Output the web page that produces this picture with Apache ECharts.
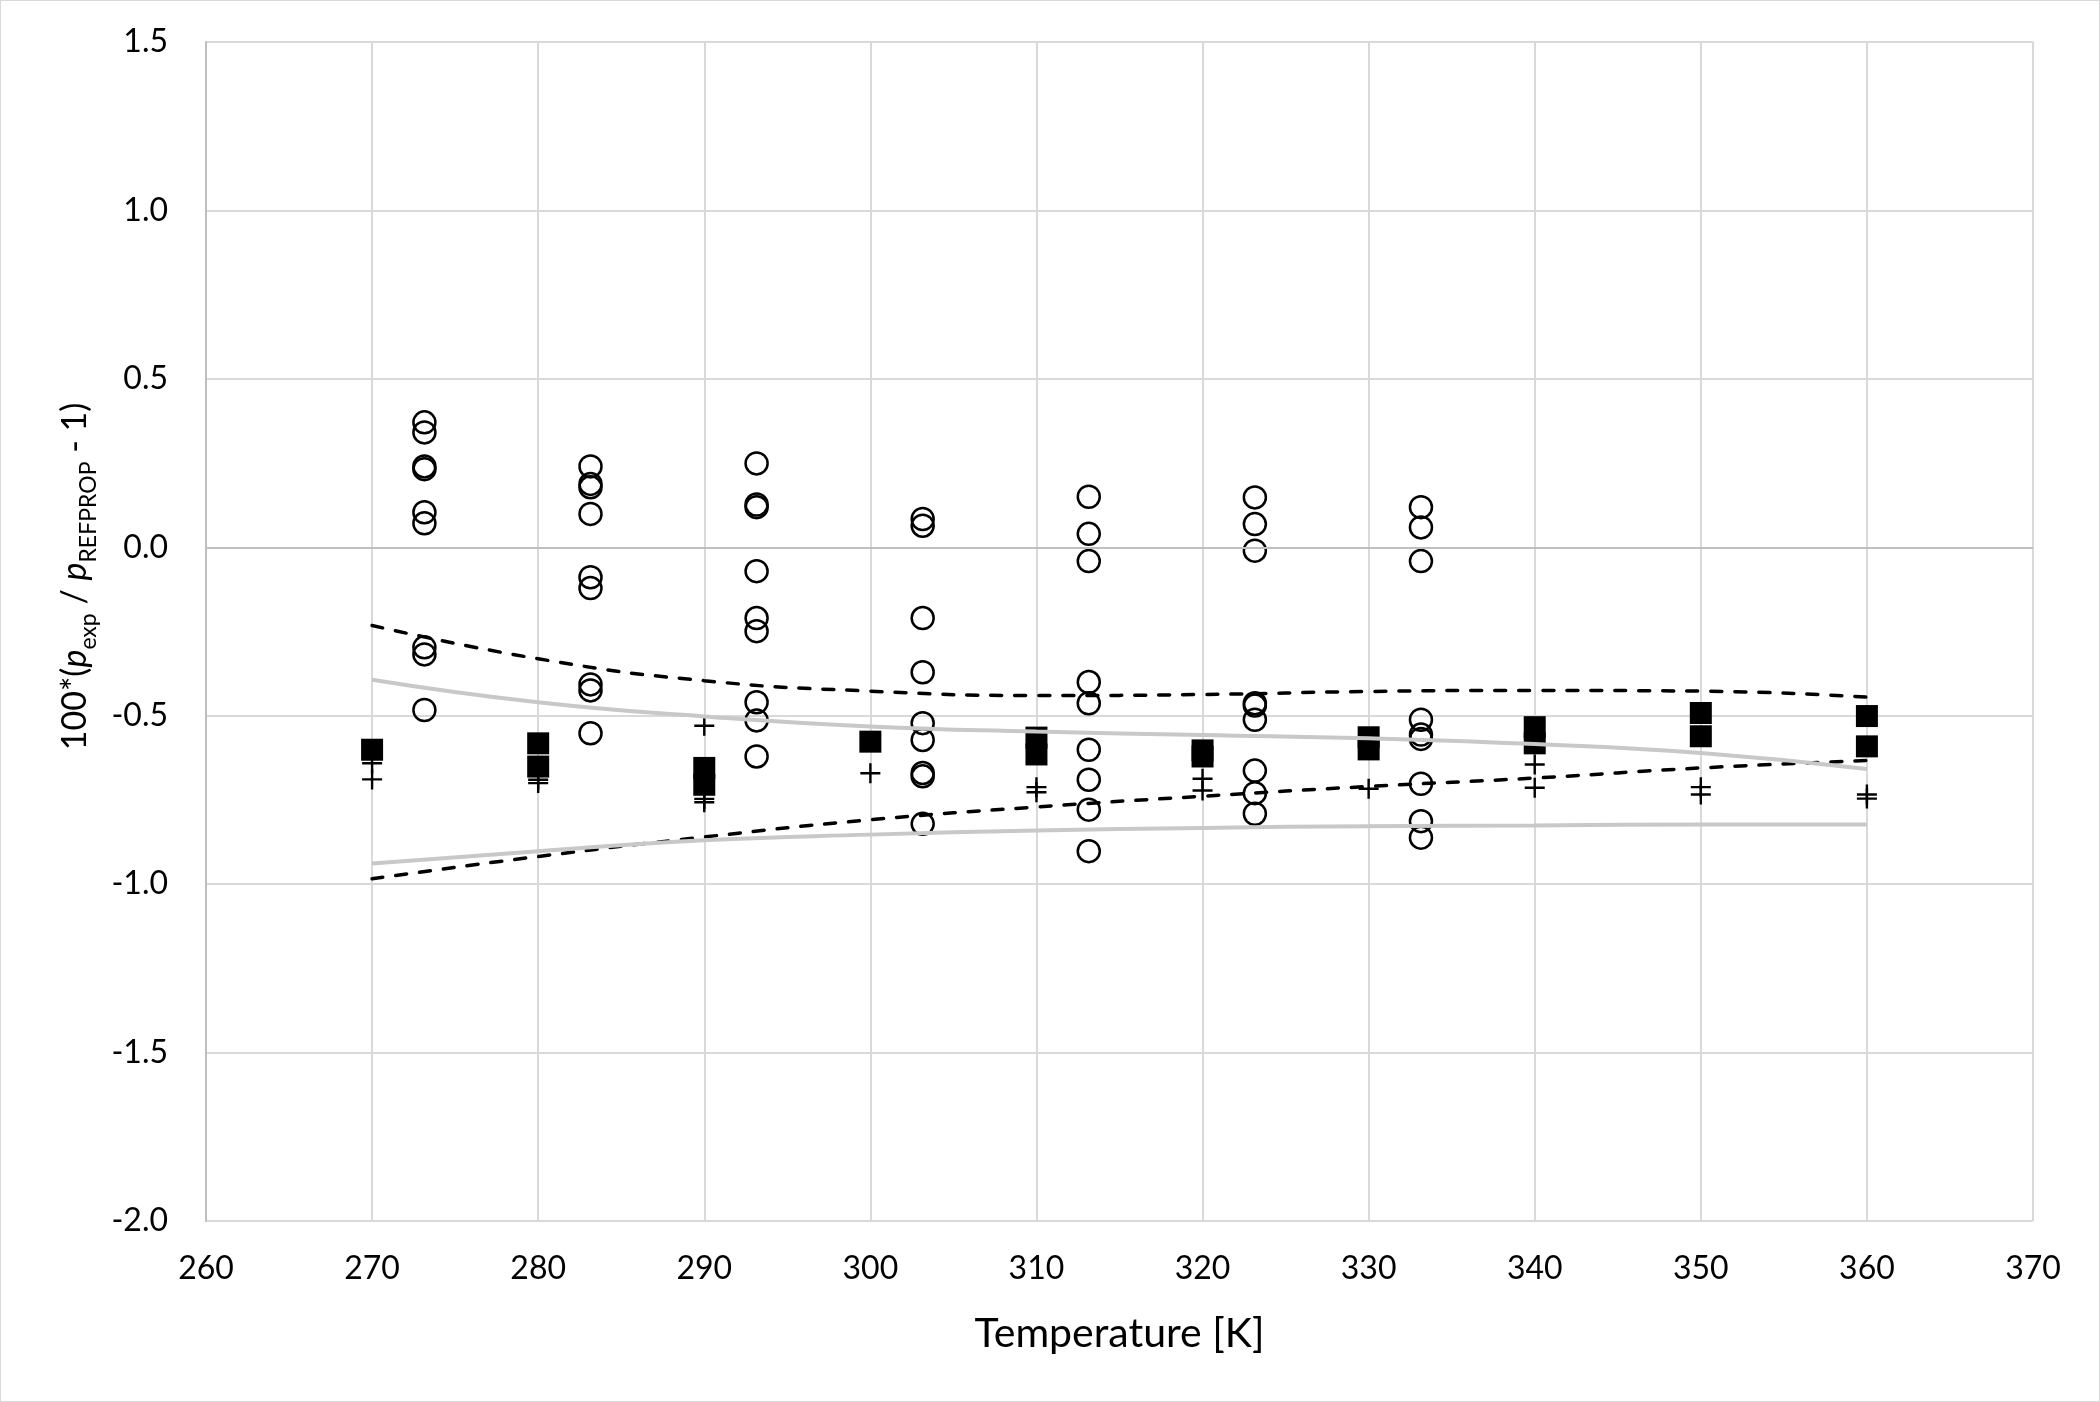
<!DOCTYPE html>
<html><head><meta charset="utf-8">
<script src="https://cdn.jsdelivr.net/npm/echarts@6/dist/echarts.min.js"></script>
<style>
html,body{margin:0;padding:0;background:#fff;}
#c{width:2098px;height:1400px;border:1px solid #d9d9d9;}
</style></head>
<body><div id="c"></div>
<script>
// Open circles: measurement temperatures and deviations
const circleTemps = [273.15, 283.15, 293.15, 303.15, 313.15, 323.15, 333.15];
const circleDevs = [
  [0.371, 0.341, 0.240, 0.232, 0.104, 0.071, -0.297, -0.318, -0.483],
  [0.240, 0.188, 0.178, 0.099, -0.089, -0.121, -0.407, -0.425, -0.552],
  [0.249, 0.127, 0.119, -0.071, -0.210, -0.249, -0.460, -0.514, -0.621],
  [0.084, 0.064, -0.210, -0.371, -0.522, -0.572, -0.670, -0.680, -0.821],
  [0.150, 0.040, -0.041, -0.400, -0.463, -0.601, -0.690, -0.779, -0.902],
  [0.148, 0.069, -0.010, -0.463, -0.470, -0.512, -0.663, -0.730, -0.791],
  [0.119, 0.059, -0.041, -0.512, -0.556, -0.569, -0.702, -0.813, -0.862]
];
// Filled squares
const squareT = [270, 280, 280, 290, 290, 300, 310, 310, 320, 320, 330, 330, 340, 340, 350, 350, 360, 360];
const squareDev = [-0.601, -0.582, -0.651, -0.655, -0.705, -0.577, -0.565, -0.615, -0.603, -0.621, -0.564, -0.600, -0.534, -0.582, -0.492, -0.561, -0.501, -0.591];
// Plus markers
const plusT = [270, 270, 280, 280, 290, 290, 290, 300, 310, 310, 320, 320, 330, 340, 340, 350, 350, 360, 360];
const plusDev = [-0.641, -0.689, -0.690, -0.700, -0.530, -0.747, -0.757, -0.671, -0.712, -0.727, -0.687, -0.722, -0.717, -0.645, -0.714, -0.712, -0.734, -0.734, -0.746];
// Uncertainty bands
const lineT = [270, 280, 290, 300, 310, 320, 330, 340, 350, 360];
const upperDash = [-0.232, -0.331, -0.396, -0.427, -0.440, -0.437, -0.428, -0.425, -0.427, -0.445];
const lowerDash = [-0.984, -0.918, -0.860, -0.809, -0.771, -0.739, -0.710, -0.685, -0.655, -0.633];
const upperGray = [-0.393, -0.460, -0.502, -0.532, -0.547, -0.557, -0.567, -0.584, -0.611, -0.658];
const lowerGray = [-0.939, -0.902, -0.870, -0.853, -0.841, -0.833, -0.828, -0.826, -0.823, -0.823];

const FONT = 'Lato';
const circleData = [];
circleTemps.forEach((t, i) => circleDevs[i].forEach(v => circleData.push([t, v])));
const zip = (a, b) => a.map((x, i) => [x, b[i]]);

const chart = echarts.init(document.getElementById('c'));
const lineSeries = (data, dashed) => ({
  type: 'line', data: zip(lineT, data), showSymbol: false, symbol: 'none',
  smooth: 0.5, silent: true,
  lineStyle: dashed ? {color: '#000', width: 3.5, type: [11, 13], cap: 'round'}
                    : {color: '#c8c8c8', width: 4, type: 'solid'},
  z: dashed ? 4 : 5
});
chart.setOption({
  animation: false,
  backgroundColor: '#fff',
  grid: {left: 205, right: 66, top: 41, bottom: 180},
  xAxis: {
    type: 'value', min: 260, max: 370, interval: 10,
    name: 'Temperature [K]', nameLocation: 'middle', nameGap: 92,
    nameTextStyle: {fontFamily: FONT, fontSize: 41, color: '#000'},
    axisLine: {show: false, onZero: false},
    axisTick: {show: false},
    axisLabel: {fontFamily: FONT, fontSize: 32, color: '#000', margin: 32},
    splitLine: {show: true, lineStyle: {color: '#d9d9d9', width: 2}}
  },
  yAxis: {
    type: 'value', min: -2, max: 1.5, interval: 0.5,
    name: '{n|100*(}{i|p}{s|exp}{n| / }{i|p}{s|REFPROP}{n| - 1)}',
    nameLocation: 'middle', nameGap: 114, nameRotate: 90,
    nameTextStyle: {
      fontFamily: FONT, fontSize: 34, color: '#000', padding: [0, 0, 0, 110],
      rich: {
        n: {fontFamily: FONT, fontSize: 34, color: '#000', lineHeight: 42, verticalAlign: 'bottom'},
        i: {fontFamily: FONT, fontSize: 34, color: '#000', fontStyle: 'italic', lineHeight: 42, verticalAlign: 'bottom'},
        s: {fontFamily: FONT, fontSize: 23, color: '#000', lineHeight: 23, verticalAlign: 'bottom', padding: [0, 0, -8, 0]}
      }
    },
    axisLine: {show: true, onZero: false, lineStyle: {color: '#bfbfbf', width: 2}},
    axisTick: {show: false},
    axisLabel: {fontFamily: FONT, fontSize: 32, color: '#000', margin: 38,
      formatter: v => v.toFixed(1)},
    splitLine: {show: true, lineStyle: {color: '#d9d9d9', width: 2}}
  },
  series: [
    {type: 'line', data: [], markLine: {silent: true, symbol: 'none', label: {show: false},
      lineStyle: {color: '#bfbfbf', width: 2, type: 'solid'}, data: [{yAxis: 0}]}, z: 1},
    {type: 'scatter', data: zip(squareT, squareDev), symbol: 'rect', symbolSize: 22,
      itemStyle: {color: '#000', opacity: 1}, z: 2},
    {type: 'scatter', data: zip(plusT, plusDev),
      symbol: 'path://M8.8,0H11.2V8.8H20V11.2H11.2V20H8.8V11.2H0V8.8H8.8Z', symbolSize: 20,
      itemStyle: {color: '#000', opacity: 1}, z: 3},
    {type: 'scatter', data: circleData, symbol: 'circle', symbolSize: 22,
      itemStyle: {color: 'rgba(0,0,0,0)', borderColor: '#000', borderWidth: 2.5, opacity: 1}, z: 3},
    lineSeries(upperDash, true),
    lineSeries(lowerDash, true),
    lineSeries(upperGray, false),
    lineSeries(lowerGray, false)
  ]
});
</script></body></html>
